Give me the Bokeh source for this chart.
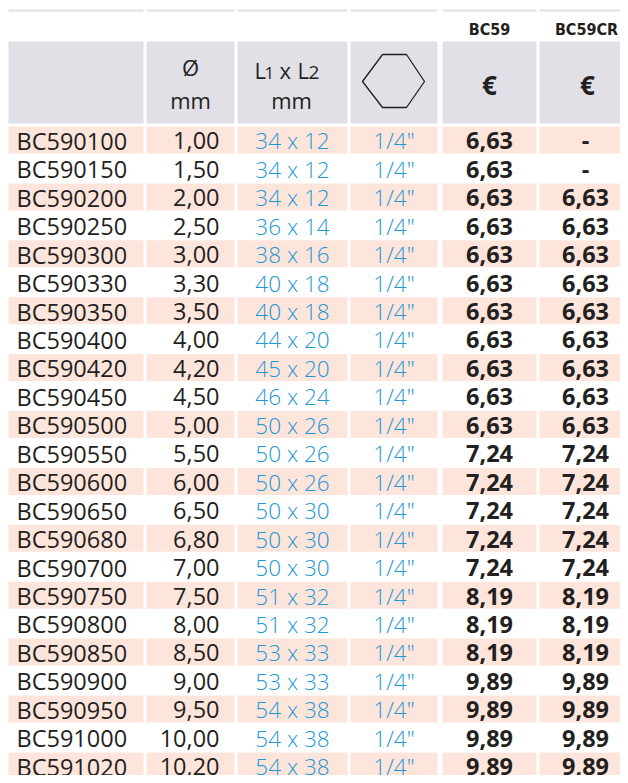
from bokeh.plotting import figure
from bokeh.models import Range1d, ColumnDataSource
from bokeh.core.properties import value
from bokeh.embed import file_html
from bokeh.resources import INLINE

# ---------------- data ----------------
codes = ["BC590100", "BC590150", "BC590200", "BC590250", "BC590300", "BC590330",
         "BC590350", "BC590400", "BC590420", "BC590450", "BC590500", "BC590550",
         "BC590600", "BC590650", "BC590680", "BC590700", "BC590750", "BC590800",
         "BC590850", "BC590900", "BC590950", "BC591000", "BC591020"]
diameters = ["1,00", "1,50", "2,00", "2,50", "3,00", "3,30", "3,50", "4,00", "4,20",
             "4,50", "5,00", "5,50", "6,00", "6,50", "6,80", "7,00", "7,50", "8,00",
             "8,50", "9,00", "9,50", "10,00", "10,20"]
lengths = ["34 x 12", "34 x 12", "34 x 12", "36 x 14", "38 x 16", "40 x 18", "40 x 18",
           "44 x 20", "45 x 20", "46 x 24", "50 x 26", "50 x 26", "50 x 26", "50 x 30",
           "50 x 30", "50 x 30", "51 x 32", "51 x 32", "53 x 33", "53 x 33", "54 x 38",
           "54 x 38", "54 x 38"]
hex_sizes = ['1/4"', '1/4"', '1/4"', '1/4"', '1/4"', '1/4"', '1/4"', '1/4"', '1/4"',
             '1/4"', '1/4"', '1/4"', '1/4"', '1/4"', '1/4"', '1/4"', '1/4"', '1/4"',
             '1/4"', '1/4"', '1/4"', '1/4"', '1/4"']
prices_bc59 = ["6,63", "6,63", "6,63", "6,63", "6,63", "6,63", "6,63", "6,63", "6,63",
               "6,63", "6,63", "7,24", "7,24", "7,24", "7,24", "7,24", "8,19", "8,19",
               "8,19", "9,89", "9,89", "9,89", "9,89"]
prices_bc59cr = ["-", "-", "6,63", "6,63", "6,63", "6,63", "6,63", "6,63", "6,63",
                 "6,63", "6,63", "7,24", "7,24", "7,24", "7,24", "7,24", "8,19", "8,19",
                 "8,19", "9,89", "9,89", "9,89", "9,89"]
series_labels = ["BC59", "BC59CR"]

# ---------------- layout ----------------
FONT = "Open Sans"
LIGHT = "'Open Sans Light', 'Open Sans'"
COND = "'Liberation Sans Narrow', 'DejaVu Sans Condensed'"
DARK = "#231f20"
BLUE = "#1f98d5"
GRAY = "#e1e0e7"
SHADE = "#fde5dc"
DY = -8  # compensation for renderer's baseline placement

col_left = [8, 146, 237, 350, 442, 539]
col_right = [143, 234, 347, 437, 536, 628]
row_top0 = 126.0
row_pitch = 28.45
row_h = 27.0

p = figure(width=620, height=775, x_range=Range1d(0, 620), y_range=Range1d(775, 0),
           output_backend="svg", toolbar_location=None, min_border=0,
           x_axis_location=None, y_axis_location=None)
p.grid.visible = False
p.outline_line_color = None
p.background_fill_color = "white"
p.border_fill_color = "white"

# top rule
p.quad(left=col_left, right=col_right, top=[9] * 6, bottom=[11] * 6,
       fill_color=GRAY, line_color=None)
# header boxes
p.quad(left=col_left, right=col_right, top=[41] * 6, bottom=[123] * 6,
       fill_color=GRAY, line_color=None)

# shaded rows
n = len(codes)
L, R, T, B = [], [], [], []
for i in range(0, n, 2):
    top = row_top0 + i * row_pitch
    for cl, cr in zip(col_left, col_right):
        L.append(cl); R.append(cr); T.append(top); B.append(top + row_h)
p.quad(left=L, right=R, top=T, bottom=B, fill_color=SHADE, line_color=None)

base = [row_top0 + i * row_pitch + 22.3 + DY for i in range(n)]
src = ColumnDataSource(dict(y=base, codes=codes, diam=diameters, lengths=lengths,
                            hexs=hex_sizes, p1=prices_bc59, p2=prices_bc59cr))

def col_text(field, x, align, color, style="normal", size="23.5px", font=FONT):
    p.text(x=x, y="y", text=field, source=src, text_align=align,
           text_baseline="alphabetic", text_color=color,
           text_font=value(font), text_font_size=size, text_font_style=style)

col_text("codes", 16, "left", DARK)
col_text("diam", 219, "right", DARK)
col_text("lengths", 292, "center", BLUE, size="22.5px", font=LIGHT)
col_text("hexs", 393.5, "center", BLUE, size="22.5px", font=LIGHT)
col_text("p1", 489, "center", DARK, style="bold")
col_text("p2", 585, "center", DARK, style="bold")

# header texts
def t(x, y, s, size="22px", align="left", style="normal", font=FONT, color=DARK):
    p.text(x=[x], y=[y + DY], text=[s], text_align=align, text_baseline="alphabetic",
           text_font=value(font), text_font_size=size, text_font_style=style,
           text_color=color)

t(190, 74, "Ø", align="center")
t(190, 107, "mm", align="center")
t(254, 77, "L")
t(264, 80, "1", size="17px")
t(279, 77, "x")
t(297, 77, "L")
t(308, 80, "2", size="19px")
t(291, 107, "mm", align="center")
t(489, 92, "€", size="26px", align="center", style="bold")
t(587, 92, "€", size="26px", align="center", style="bold")
t(489, 37, series_labels[0], size="16px", align="center", style="bold", font=COND)
t(586, 37, series_labels[1], size="16px", align="center", style="bold", font=COND)

# hexagon icon
hx = [362, 382, 406, 424, 406, 382]
hy = [81, 54, 54, 81, 107, 107]
p.patch(hx, hy, fill_color=None, line_color="#231f20", line_width=1.3)

open("out.html", "w").write(file_html(p, INLINE))
